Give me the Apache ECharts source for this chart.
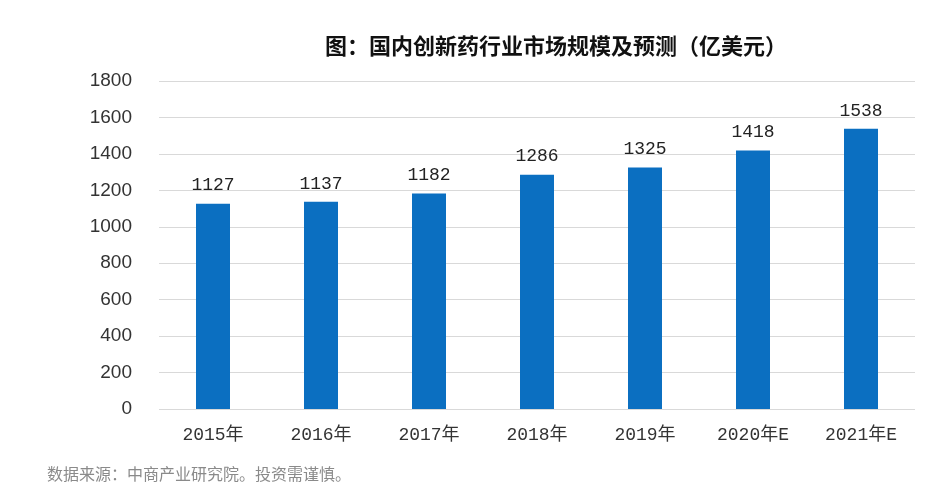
<!DOCTYPE html>
<html><head><meta charset="utf-8">
<script src="https://cdn.jsdelivr.net/npm/echarts@6/dist/echarts.min.js"></script>
<style>html,body{margin:0;padding:0;background:#fff}#c{width:941px;height:492px}</style>
</head><body><div id="c"></div>
<script>
const categories = ['2015年','2016年','2017年','2018年','2019年','2020年E','2021年E'];
const values = [1127,1137,1182,1286,1325,1418,1538];
const titleText = '图：国内创新药行业市场规模及预测（亿美元）';
const sourceText = '数据来源：中商产业研究院。投资需谨慎。';

const chart = echarts.init(document.getElementById('c'));
chart.setOption({
  backgroundColor:'#fff',
  animation:false,
  title:[{
    text:titleText, left:551, top:30, textAlign:'center',
    textStyle:{fontFamily:'Noto Sans CJK SC', fontWeight:'bold', fontSize:22, color:'#111'}
  },{
    text:sourceText, left:42, top:461,
    textStyle:{fontFamily:'Noto Sans CJK SC', fontWeight:'normal', fontSize:16, color:'#8a8a8a'}
  }],
  grid:{left:159, right:26, top:81, bottom:83},
  xAxis:{
    type:'category', data:categories,
    axisLine:{show:false}, axisTick:{show:false},
    axisLabel:{margin:17, fontSize:18, color:'#333', fontFamily:'Liberation Mono, Noto Sans CJK SC'}
  },
  yAxis:{
    type:'value', min:0, max:1800, interval:200,
    axisLine:{show:false}, axisTick:{show:false},
    splitLine:{lineStyle:{color:'#d9d9d9', width:1}},
    axisLabel:{margin:27, fontSize:19, color:'#333', fontFamily:'Liberation Sans', formatter:function(v){return String(v);}}
  },
  series:[{
    type:'bar', data:values, barWidth:34,
    itemStyle:{color:'#0b6fc1'},
    label:{show:true, position:'top', distance:9, fontSize:18, color:'#222', fontFamily:'Liberation Mono'}
  }]
});
</script></body></html>
